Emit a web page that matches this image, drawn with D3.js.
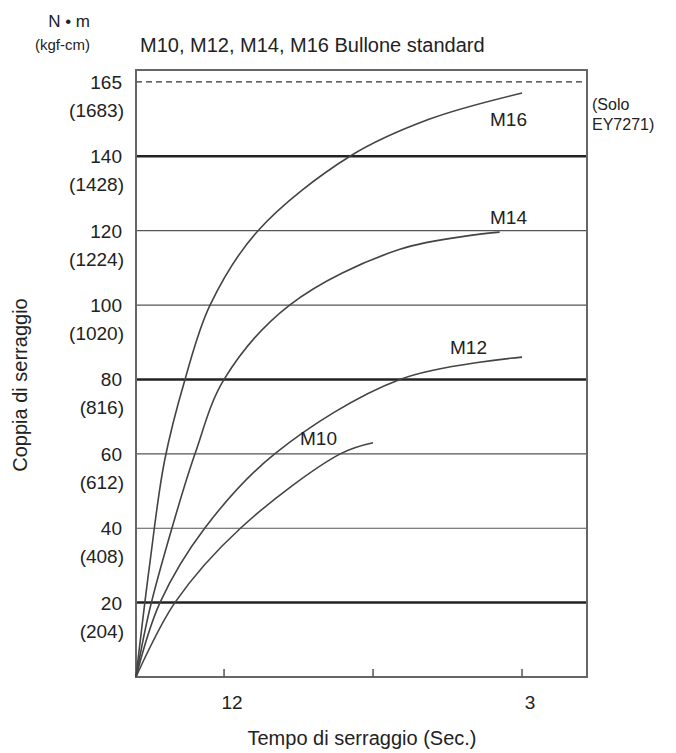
<!DOCTYPE html><html><head><meta charset="utf-8"><script src="https://cdn.jsdelivr.net/npm/d3@7"></script>
<style>body{margin:0;background:#fff}text{font-family:Arial,"Liberation Sans",sans-serif;fill:#222}</style></head><body><svg id="c" width="676" height="753"></svg>
<script>
const yTicks=[20,40,60,80,100,120,140];
const yLabels=["20","40","60","80","100","120","140"];
const yLabelsKgf=["(204)","(408)","(612)","(816)","(1020)","(1224)","(1428)"];
const thickTicks=[20,80,140];
const maxLine=160, maxLabel="165", maxLabelKgf="(1683)";
const xTicks=[1,2,3];
const xLabels=["12","","3"];
const m16=[[0.409,0],[0.5,30],[0.6,58],[0.738,80],[0.906,100],[1.228,120],[1.845,140],[2.38,150],[3.0,157]];
const m14=[[0.409,0],[0.5,18],[0.65,40],[0.805,60],[1.0,80],[1.44,100],[2.18,115],[2.85,119.6]];
const m12=[[0.409,0],[0.57,20],[0.87,40],[1.34,60],[2.18,80],[3.0,86]];
const m10=[[0.409,0],[0.67,20],[1.11,40],[1.78,60],[2.0,63]];
const series=[{n:"M16",d:m16,lx:490,ly:126},{n:"M14",d:m14,lx:490,ly:224},{n:"M12",d:m12,lx:450,ly:354},{n:"M10",d:m10,lx:300,ly:445}];
const svg=d3.select("#c");
const L=136,R=587,T=70,B=677;
const x=d3.scaleLinear().domain([0.409,3.436]).range([L,R]);
const y=d3.scaleLinear().domain([0,163.2]).range([B,T]);
svg.append("g").selectAll("line").data(yTicks).join("line").attr("x1",L).attr("x2",R).attr("y1",d=>y(d)).attr("y2",d=>y(d))
 .attr("stroke",d=>thickTicks.includes(d)?"#222":"#555").attr("stroke-width",d=>thickTicks.includes(d)?2.5:1.2);
svg.append("line").attr("x1",L).attr("x2",R).attr("y1",y(maxLine)).attr("y2",y(maxLine)).attr("stroke","#333").attr("stroke-width",1.3).attr("stroke-dasharray","6,4");
svg.append("rect").attr("x",L).attr("y",T).attr("width",R-L).attr("height",B-T).attr("fill","none").attr("stroke","#666").attr("stroke-width",2);
svg.append("g").selectAll("line").data(xTicks).join("line").attr("x1",d=>x(d)).attr("x2",d=>x(d)).attr("y1",B).attr("y2",B-8).attr("stroke","#555").attr("stroke-width",1.5);
svg.append("g").selectAll("text").data(xTicks).join("text").attr("x",d=>x(d)+8).attr("y",B+32).attr("text-anchor","middle").attr("font-size",19).text((d,i)=>xLabels[i]);
const yl=svg.append("g").attr("font-size",19).attr("text-anchor","end");
yTicks.forEach((d,i)=>{yl.append("text").attr("x",122).attr("y",y(d)+7).text(yLabels[i]);yl.append("text").attr("x",124).attr("y",y(d)+35).text(yLabelsKgf[i]);});
yl.append("text").attr("x",122).attr("y",y(maxLine)+7).text(maxLabel);
yl.append("text").attr("x",124).attr("y",y(maxLine)+35).text(maxLabelKgf);
const line=d3.line().x(d=>x(d[0])).y(d=>y(d[1])).curve(d3.curveCatmullRom);
series.forEach(s=>{svg.append("path").attr("d",line(s.d)).attr("fill","none").attr("stroke","#444").attr("stroke-width",1.6);
 svg.append("text").attr("x",s.lx).attr("y",s.ly).attr("font-size",19).text(s.n);});
svg.append("text").attr("x",592).attr("y",110).attr("font-size",16).text("(Solo");
svg.append("text").attr("x",592).attr("y",130).attr("font-size",16).text("EY7271)");
svg.append("text").attr("x",140).attr("y",52).attr("font-size",20).text("M10, M12, M14, M16 Bullone standard");
svg.append("text").attr("x",90).attr("y",27).attr("font-size",17).attr("text-anchor","end").text("N • m");
svg.append("text").attr("x",90).attr("y",50).attr("font-size",15).attr("text-anchor","end").text("(kgf-cm)");
svg.append("text").attr("transform","translate(27,385) rotate(-90)").attr("text-anchor","middle").attr("font-size",20).text("Coppia di serraggio");
svg.append("text").attr("x",362).attr("y",745).attr("text-anchor","middle").attr("font-size",20).text("Tempo di serraggio (Sec.)");
</script></body></html>
